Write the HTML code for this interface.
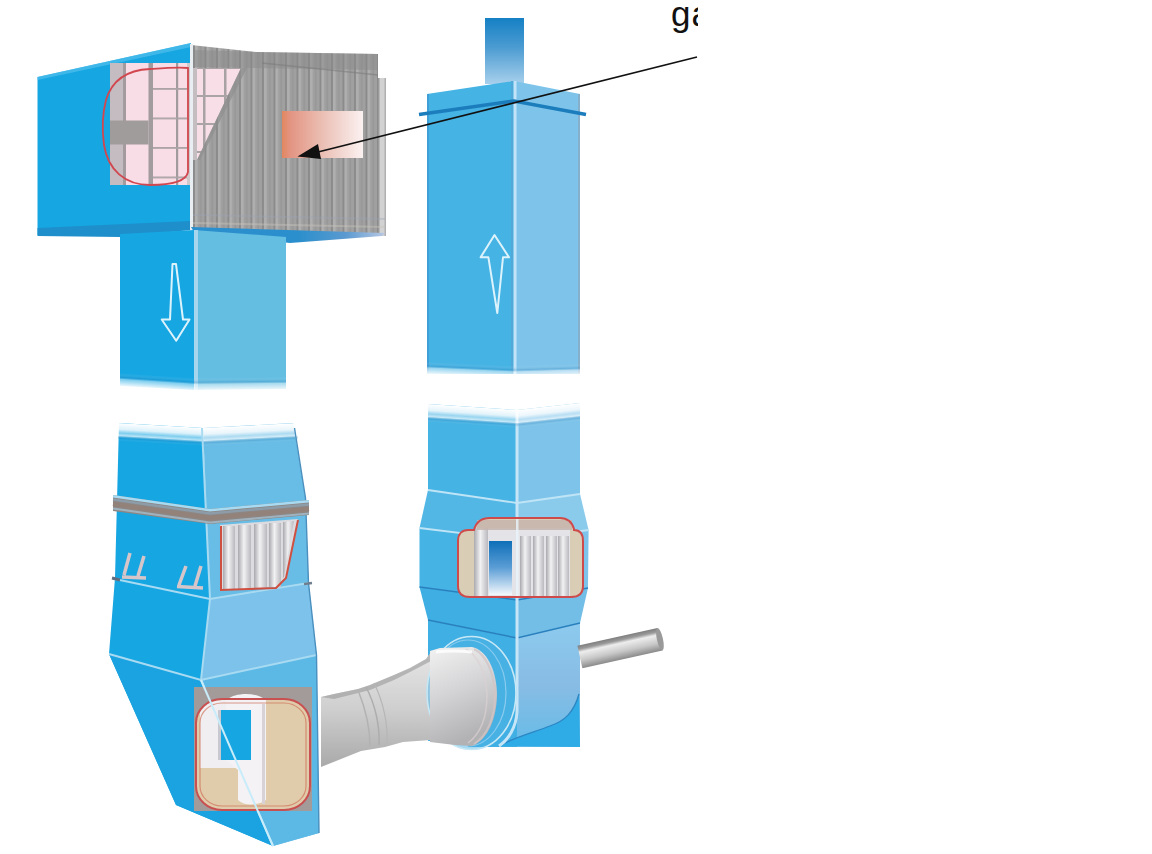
<!DOCTYPE html>
<html><head><meta charset="utf-8">
<style>
html,body{margin:0;padding:0;background:#fff;width:1152px;height:854px;overflow:hidden}
svg{position:absolute;left:0;top:0;display:block}
.t{position:absolute;left:671px;top:-6px;font-family:"Liberation Sans",sans-serif;font-size:35px;letter-spacing:1px;color:#111;width:27px;overflow:hidden;white-space:nowrap;line-height:40px}
</style></head><body>
<svg width="1152" height="854" viewBox="0 0 1152 854">
<defs>
  <linearGradient id="orange" x1="0" y1="0" x2="1" y2="0">
    <stop offset="0" stop-color="#E2865E"/><stop offset="0.1" stop-color="#E39482"/><stop offset="0.5" stop-color="#EBBFB4"/><stop offset="1" stop-color="#FBF1F1"/>
  </linearGradient>
  <linearGradient id="stack" x1="0" y1="0" x2="0" y2="1">
    <stop offset="0" stop-color="#1580C4"/><stop offset="0.45" stop-color="#4C9CD2"/><stop offset="1" stop-color="#A8D0EC"/>
  </linearGradient>
  <linearGradient id="fadeB" x1="0" y1="0" x2="0" y2="1">
    <stop offset="0" stop-color="#fff" stop-opacity="0"/><stop offset="0.3" stop-color="#2a7fb8" stop-opacity="0.25"/><stop offset="0.45" stop-color="#fff" stop-opacity="0.45"/><stop offset="0.75" stop-color="#fff" stop-opacity="0.75"/><stop offset="1" stop-color="#fff" stop-opacity="1"/>
  </linearGradient>
  <linearGradient id="fadeT" x1="0" y1="0" x2="0" y2="1">
    <stop offset="0" stop-color="#fff" stop-opacity="1"/><stop offset="0.35" stop-color="#fff" stop-opacity="0.85"/><stop offset="0.55" stop-color="#fff" stop-opacity="0.45"/><stop offset="0.7" stop-color="#fff" stop-opacity="0.7"/><stop offset="0.85" stop-color="#2a7fb8" stop-opacity="0.2"/><stop offset="1" stop-color="#fff" stop-opacity="0"/>
  </linearGradient>
  <linearGradient id="pipe" x1="0" y1="0" x2="0" y2="1">
    <stop offset="0" stop-color="#E6E6E6"/><stop offset="0.5" stop-color="#CFCFCF"/><stop offset="1" stop-color="#A9A9A9"/>
  </linearGradient>
  <linearGradient id="rod" x1="0" y1="0" x2="0" y2="1">
    <stop offset="0" stop-color="#8E8E8E"/><stop offset="0.3" stop-color="#E4E4E4"/><stop offset="0.7" stop-color="#C4C4C4"/><stop offset="1" stop-color="#7C7C7C"/>
  </linearGradient>
  <linearGradient id="bsq" x1="0" y1="0" x2="0" y2="1">
    <stop offset="0" stop-color="#0E6FB8"/><stop offset="0.5" stop-color="#5C9ED6"/><stop offset="1" stop-color="#F4F8FC"/>
  </linearGradient>
  <linearGradient id="tube" x1="0" y1="0" x2="1" y2="0">
    <stop offset="0" stop-color="#A9A9AE"/><stop offset="0.45" stop-color="#F2F2F4"/><stop offset="1" stop-color="#B9B9BE"/>
  </linearGradient>
  <pattern id="stripes" x="193" y="0" width="11.5" height="10" patternUnits="userSpaceOnUse">
    <rect width="11.5" height="10" fill="#A0A0A0"/>
    <rect x="0" width="2" height="10" fill="#8B8B8B"/>
    <rect x="2" width="2.5" height="10" fill="#B0B0B0"/>
    <rect x="7" width="1.5" height="10" fill="#979797"/>
  </pattern>
  <pattern id="grid" x="176" y="58.5" width="26" height="29.5" patternUnits="userSpaceOnUse">
    <rect width="26" height="29.5" fill="#F8DDE6"/>
    <rect x="0" width="2.2" height="29.5" fill="#A29B9E"/>
    <rect y="0" width="26" height="1.8" fill="#ABA3A6"/>
  </pattern>
  <linearGradient id="rod2" x1="0" y1="0" x2="0" y2="1">
    <stop offset="0" stop-color="#7E7E7E"/><stop offset="0.16" stop-color="#9A9A9A"/><stop offset="0.3" stop-color="#EDEDED"/><stop offset="0.65" stop-color="#C8C8C8"/><stop offset="1" stop-color="#8A8A8A"/>
  </linearGradient>
  <linearGradient id="cap" x1="0" y1="0" x2="0.3" y2="1">
    <stop offset="0" stop-color="#F2F2F2"/><stop offset="0.5" stop-color="#D4D4D6"/><stop offset="1" stop-color="#B2B2B4"/>
  </linearGradient>
  <pattern id="grid2" x="203" y="95" width="21" height="28" patternUnits="userSpaceOnUse">
    <rect width="21" height="28" fill="#F8DFE7"/>
    <rect x="0" width="2.5" height="28" fill="#A8A2A5"/>
    <rect y="0" width="21" height="2" fill="#ABA4A7"/>
  </pattern>
  <linearGradient id="band" x1="0" y1="0" x2="1" y2="0">
    <stop offset="0" stop-color="#2A8FCC"/><stop offset="0.55" stop-color="#2A8FCC"/><stop offset="0.8" stop-color="#5C9AD0"/><stop offset="1" stop-color="#B8C8E4"/>
  </linearGradient>
  <linearGradient id="rface" x1="0" y1="0" x2="0" y2="1">
    <stop offset="0" stop-color="#8CCAEE"/><stop offset="0.5" stop-color="#88BCE4"/><stop offset="1" stop-color="#64BCE8"/>
  </linearGradient>
</defs>
<!--PARTS-->
<!-- ===== UPPER BOX ===== -->
<polygon points="37.5,77 191,43 191,223 37.5,235" fill="#16A6E2"/>
<polygon points="37.5,77 191,43 191,47 37.5,80" fill="#5CC4EE" opacity="0.6"/>
<!-- cutout on left face -->
<rect x="110" y="63" width="81" height="122" fill="url(#grid)"/>
<rect x="110" y="63" width="40" height="122" fill="#F8DDE6"/>
<rect x="110" y="63" width="13.5" height="122" fill="#C4BCC0"/>
<rect x="123" y="63" width="3" height="122" fill="#A39B9E"/>
<rect x="110" y="120.5" width="38.5" height="24" fill="#A09C9C"/>
<rect x="148.5" y="63" width="4.5" height="122" fill="#A29C9E"/>
<rect x="187" y="63" width="4" height="122" fill="#CFC8CB"/>
<path d="M188,68 L188,172 C186,182 168,185 150,185 C125,185 108,170 104,145 C102,130 102,115 106,100 C112,80 128,70 150,69 C165,68 178,67 188,68 Z" fill="none" stroke="#D2474F" stroke-width="1.8"/>
<!-- bottom dark band -->
<polygon points="37.5,228 191,221 191,230 120,237 37.5,236" fill="#1E8FCB"/>

<!-- grey right face -->
<polygon points="191,45 256,52 378,54 378,78 385,78 385,236 191,229" fill="url(#stripes)"/>
<polygon points="193,50 256,52 378,54 378,70 193,67" fill="#8A8A8A" opacity="0.5"/>
<line x1="262" y1="63" x2="378" y2="75" stroke="#7E7E7E" stroke-width="1.5" opacity="0.6"/>
<!-- pink grid triangle -->
<polygon points="193,68 241,68 197,160 193,160" fill="url(#grid2)"/>
<rect x="193" y="68" width="4" height="92" fill="#C4BEC1"/>
<polygon points="241,68 247,68 200,160 197,160" fill="#8E8E8E" opacity="0.7"/>
<!-- right frame -->
<rect x="378" y="78" width="7.5" height="158" fill="#D2D2D2"/>
<rect x="378" y="78" width="1.5" height="158" fill="#9A9A9A"/>
<rect x="384.5" y="78" width="1.5" height="158" fill="#B0B0B0"/>
<!-- left highlight -->
<rect x="190" y="44" width="3" height="186" fill="#E8EEF2"/>
<!-- bottom of grey -->
<polygon points="193,214 385,218 385,220 193,216" fill="#9AA2B4" opacity="0.35"/>
<polygon points="193,222 385,226 385,228 193,224" fill="#C8C4BC" opacity="0.45"/>
<polygon points="191,227 385,233 382,236 290,243 194,232" fill="url(#band)"/>
<!-- orange block -->
<rect x="282" y="111" width="81" height="47" fill="url(#orange)"/>
<!-- ===== DOWN DUCT ===== -->
<polygon points="120,234 194,230 194,390 120,386" fill="#16A6E2"/>
<polygon points="194,230 286,237 286,389 194,390" fill="#64BEE2"/>
<rect x="194" y="230" width="4" height="160" fill="#A6D6EE"/>
<rect x="120" y="0" width="74.5" height="14" fill="url(#fadeB)" transform="matrix(1,0.0671,0,1,0,364.946)"/><rect x="194" y="0" width="92" height="14" fill="url(#fadeB)" transform="matrix(1,-0.0109,0,1,0,380.109)"/>
<!-- down arrow -->
<path d="M172.5,264 L176,264 L183,319.5 L189.5,319.5 L176.2,340.7 L161.7,319.5 L170,319.5 Z" fill="none" stroke="#DDF3FC" stroke-width="2" stroke-linejoin="round"/>
<!-- ===== TOWER TOP ===== -->
<rect x="485" y="18" width="39" height="66" fill="url(#stack)"/>
<polygon points="427,94 514,81 514,374 427,374" fill="#45B3E4"/>
<polygon points="514,81 580,94 580,374 514,374" fill="#7EC4EA"/>
<rect x="511" y="81" width="2" height="293" fill="#52A8D6"/>
<rect x="513.5" y="81" width="3" height="293" fill="#C2E3F8"/>
<line x1="428" y1="94" x2="428" y2="374" stroke="#3F9ED6" stroke-width="2"/>
<line x1="579" y1="94" x2="579" y2="374" stroke="#86AFCB" stroke-width="2"/>
<polyline points="419,114.5 514,101 586,114.5" fill="none" stroke="#1C7DBD" stroke-width="3.5"/>
<rect x="427" y="0" width="87.5" height="13" fill="url(#fadeB)" transform="matrix(1,0.0457,0,1,0,342.480)"/><rect x="514" y="0" width="66" height="13" fill="url(#fadeB)" transform="matrix(1,-0.0303,0,1,0,381.576)"/>
<!-- up arrow -->
<path d="M494.5,235 L509,257.3 L503,257.3 L497.3,313 L488.4,257.3 L480.6,257.3 Z" fill="none" stroke="#DDF3FC" stroke-width="2" stroke-linejoin="round"/>

<!-- ===== TOWER LOWER ===== -->
<polygon points="428,404 517,410 517,503 428,490" fill="#45B3E4"/>
<polygon points="517,410 580,403 580,494 517,503" fill="#7EC4EA"/>
<polygon points="428,490 517,503 517,540 419.5,528" fill="#53B7E6"/>
<polygon points="517,503 580,494 588.6,530 517,540" fill="#8ACBEC"/>
<polygon points="419.5,528 517,540 517,600 419.5,587" fill="#45B3E4"/>
<polygon points="517,540 588.6,530 588,588 517,600" fill="#7EC4EA"/>
<polygon points="419.5,587 517,600 517,638 428,620" fill="#3FAEE2"/>
<polygon points="517,600 588,588 580,623 517,638" fill="#72BEE6"/>
<polygon points="428,620 517,638 517,747 428,747" fill="#40AFE3"/>
<polygon points="517,638 580,623 580,747 517,747" fill="url(#rface)"/>
<!-- bottom curve darker region -->
<path d="M579,694 C574,712 565,721 550,726 C535,732 515,737 499,746 L580,747 Z" fill="#2FACE6"/>
<path d="M579,694 C574,712 565,721 550,726 C535,732 515,737 499,746" fill="none" stroke="#2C86C4" stroke-width="1.3"/>
<!-- lines -->
<polyline points="428,490 517,503 580,494" fill="none" stroke="#BFE4F6" stroke-width="1.8"/>
<polyline points="419.5,528 517,540 588.6,530" fill="none" stroke="#BFE4F6" stroke-width="1.8"/>
<polyline points="419.5,587 517,600 588,588" fill="none" stroke="#2A80BE" stroke-width="1.4"/>
<polyline points="428,620 517,638 580,623" fill="none" stroke="#2A80BE" stroke-width="1.4"/>
<path d="M517,410 L517,712 C516,728 508,740 499,746" fill="none" stroke="#C6E6F8" stroke-width="3"/>
<rect x="428" y="0" width="89.5" height="18" fill="url(#fadeT)" transform="matrix(1,0.0670,0,1,0,375.307)"/><rect x="517" y="0" width="63" height="18" fill="url(#fadeT)" transform="matrix(1,-0.1111,0,1,0,467.444)"/>
<!-- tower cutout -->
<path d="M458,541 C458,534 462,530 468,530 L474,530 C476,522 481,518 490,518 L560,518 C568,518 572,522 574,529 L574,530 C580,530 583,534 583,541 L583,586 C583,593 579,597 571,597 L470,597 C462,597 458,593 458,586 Z" fill="#D9CDB6"/>
<rect x="474" y="528" width="96" height="68" fill="#E4E4E8"/>
<rect x="474" y="528" width="14" height="68" fill="url(#tube)"/>
<rect x="489" y="541" width="23" height="54" fill="url(#bsq)"/>
<rect x="520" y="536" width="11" height="60" fill="url(#tube)"/>
<rect x="533" y="536" width="11" height="60" fill="url(#tube)"/>
<rect x="546" y="536" width="11" height="60" fill="url(#tube)"/>
<rect x="558" y="536" width="11" height="60" fill="url(#tube)"/>
<rect x="477" y="520" width="95" height="10" fill="#C4B4AC" opacity="0.85"/>
<rect x="516" y="518" width="2.5" height="79" fill="#E8F4FA" opacity="0.8"/>
<path d="M458,541 C458,534 462,530 468,530 L474,530 C476,522 481,518 490,518 L560,518 C568,518 572,522 574,529 L574,530 C580,530 583,534 583,541 L583,586 C583,593 579,597 571,597 L470,597 C462,597 458,593 458,586 Z" fill="none" stroke="#CF4B4B" stroke-width="2"/>
<!-- ===== LOWER LEFT DUCT ===== -->
<polygon points="119,423 203,428 210,599 201,680 273,846 176,805 109,654 115,578" fill="#16A6E2"/>
<polygon points="203,428 293.3,423 305.5,498 308.5,583 316.5,655 319,833 273,846 201,680 210,599" fill="#68BDE6"/>
<polygon points="210,599 308.5,583 316.5,655 201,680" fill="#7CC2EA"/>
<polygon points="109,654 201,680 273,846 176,805" fill="#1AA3E0"/>
<polygon points="201,680 316.5,655 319,833 273,846" fill="#5CB9E6"/>
<rect x="118" y="0" width="85.5" height="18" fill="url(#fadeT)" transform="matrix(1,0.0585,0,1,0,416.099)"/><rect x="203" y="0" width="95" height="18" fill="url(#fadeT)" transform="matrix(1,-0.0526,0,1,0,438.684)"/>
<!-- edges -->
<polyline points="202,428 210,599 201,680 273,846" fill="none" stroke="#A8DAF2" stroke-width="2"/>
<polyline points="109,654 201,680 316.5,655" fill="none" stroke="#A8DAF2" stroke-width="2"/>
<polyline points="115,579 210,599 308.5,583" fill="none" stroke="#A8DAF2" stroke-width="1.8"/>
<polyline points="294.5,428 305.5,498 308.5,583 316.5,655 319,833" fill="none" stroke="#4A8FBE" stroke-width="1.4"/>
<!-- flange -->
<polygon points="113,495 210,509 309,500 309,515 210,524 113,511" fill="#8E8682"/>
<polyline points="113,496.2 210,510.2 309,501.2" fill="none" stroke="#A8DAF2" stroke-width="2.4" opacity="1"/>
<polyline points="113,499.5 210,513.5 309,504.5" fill="none" stroke="#8C9CA8" stroke-width="2.5" opacity="1"/>
<polyline points="113,504 210,518 309,509" fill="none" stroke="#93827A" stroke-width="4" opacity="1"/>
<polyline points="113,508.5 210,522.5 309,513.5" fill="none" stroke="#9FB2BE" stroke-width="2.2" opacity="1"/>
<line x1="112" y1="578" x2="120" y2="580" stroke="#5E6E80" stroke-width="3"/>
<line x1="304" y1="584" x2="312" y2="583" stroke="#6E7E8E" stroke-width="2.5"/>
<!-- brackets -->
<path d="M124,575 L130,553 M138,576 L144,556 M122,577 L146,578" fill="none" stroke="#D6C6CA" stroke-width="3.5"/>
<path d="M179,585 L186,566 M195,586 L201,566 M177,586.5 L203,588" fill="none" stroke="#D6C6CA" stroke-width="3.5"/>
<!-- right face cutout -->
<polygon points="220,525 298,519 286,577 276,587 220,590" fill="#DCDCE0"/>
<rect x="223" y="526" width="12" height="63" fill="url(#tube)"/>
<rect x="238" y="525" width="13" height="64" fill="url(#tube)"/>
<rect x="254" y="524" width="13" height="65" fill="url(#tube)"/>
<rect x="269" y="523" width="12" height="64" fill="url(#tube)"/>
<polygon points="283,522 294,521 284,577 283,578" fill="url(#tube)"/>
<polyline points="221,526 221,590 276,588 286,578 298,520" fill="none" stroke="#CF5040" stroke-width="2"/>
<!-- lower cutout -->
<rect x="194" y="687" width="118" height="124" fill="#A39A9A"/>
<rect x="196" y="699" width="114" height="111" rx="26" ry="24" fill="#E0CCAA"/>
<path d="M200,712 C204,704 212,700 222,700 L262,700 L262,760 L240,768 L200,768 Z" fill="#F0EEF0"/>
<path d="M226,700 C236,692 256,692 266,700 L266,800 C258,806 244,806 238,800 L238,770 L226,760 Z" fill="#F4F2F4"/>
<rect x="262" y="704" width="3" height="100" fill="#D8D2D6"/>
<rect x="220" y="710" width="31" height="50" fill="#16A6E2"/>
<rect x="218" y="710" width="3" height="50" fill="#C8C8D0"/>
<rect x="196" y="699" width="114" height="111" rx="26" ry="24" fill="none" stroke="#C85050" stroke-width="2"/>
<rect x="200" y="703" width="106" height="103" rx="22" ry="20" fill="none" stroke="#D0705A" stroke-width="1.2" opacity="0.7"/>
<line x1="201" y1="680" x2="273" y2="846" stroke="#C8ECFA" stroke-width="2"/>
<!-- ===== PIPE ===== -->
<rect x="418" y="741" width="50" height="8" fill="#fff"/>
<path d="M321,697 L334,694 L358,689 L370,685 L394,675 L410,668 L426,659 L431,652 L455,650 L455,741 L431,740 L403,742 L385,747 L361,751 L321,767 Z" fill="url(#pipe)"/>
<path d="M321,697 L334,694 L358,689 L370,685 L394,675 L410,668 L426,659 L431,652 L431,661 L410,672 L394,680 L370,690 L334,699 Z" fill="#9A9A9A" opacity="0.6"/>
<path d="M358,690 C366,710 370,730 370,746" fill="none" stroke="#B2B2B2" stroke-width="1.5"/>
<path d="M366,687 C376,706 380,728 379,745" fill="none" stroke="#ADADAD" stroke-width="1.5"/>
<path d="M374,683 C384,703 388,726 387,743" fill="none" stroke="#B6B6B6" stroke-width="1.2"/>

<!-- end ring -->
<ellipse cx="471.5" cy="693" rx="45" ry="57" fill="#4DB4E6" opacity="0.5"/>
<ellipse cx="471.5" cy="693" rx="44.5" ry="56.5" fill="none" stroke="#C8E8F6" stroke-width="1.6"/>
<ellipse cx="468" cy="693" rx="38" ry="53" fill="none" stroke="#9AD2F0" stroke-width="1.2" opacity="0.8"/>
<path d="M430,651 L440,648 L472,647 C486,650 496,668 497,693 C497,718 488,740 472,746 L455,745 L430,742 Z" fill="url(#cap)"/>
<path d="M474,649 C486,655 494,672 495,695 C495,718 487,736 474,744" fill="none" stroke="#D2C4C6" stroke-width="2" opacity="0.8"/>
<path d="M466,649 C478,656 486,672 487,695 C487,718 480,734 468,743" fill="none" stroke="#DCD0D2" stroke-width="1.5" opacity="0.7"/>
<path d="M436,652 C450,650 462,651 472,652" fill="none" stroke="#FFFFFF" stroke-width="3" opacity="0.8"/>
<!-- rod -->
<g transform="translate(580,657.5) rotate(-12.5)">
  <rect x="0" y="-12" width="82" height="23" fill="url(#rod2)"/>
  <ellipse cx="82" cy="-0.5" rx="3" ry="11.5" fill="#9A9A9A"/>
</g>
<!-- ===== ARROW LINE ===== -->
<line x1="697" y1="57" x2="316" y2="152.5" stroke="#111" stroke-width="1.6"/>
<polygon points="297.5,156.5 318,144 321,159" fill="#111"/>
</svg>
<div class="t">gas</div>
</body></html>
